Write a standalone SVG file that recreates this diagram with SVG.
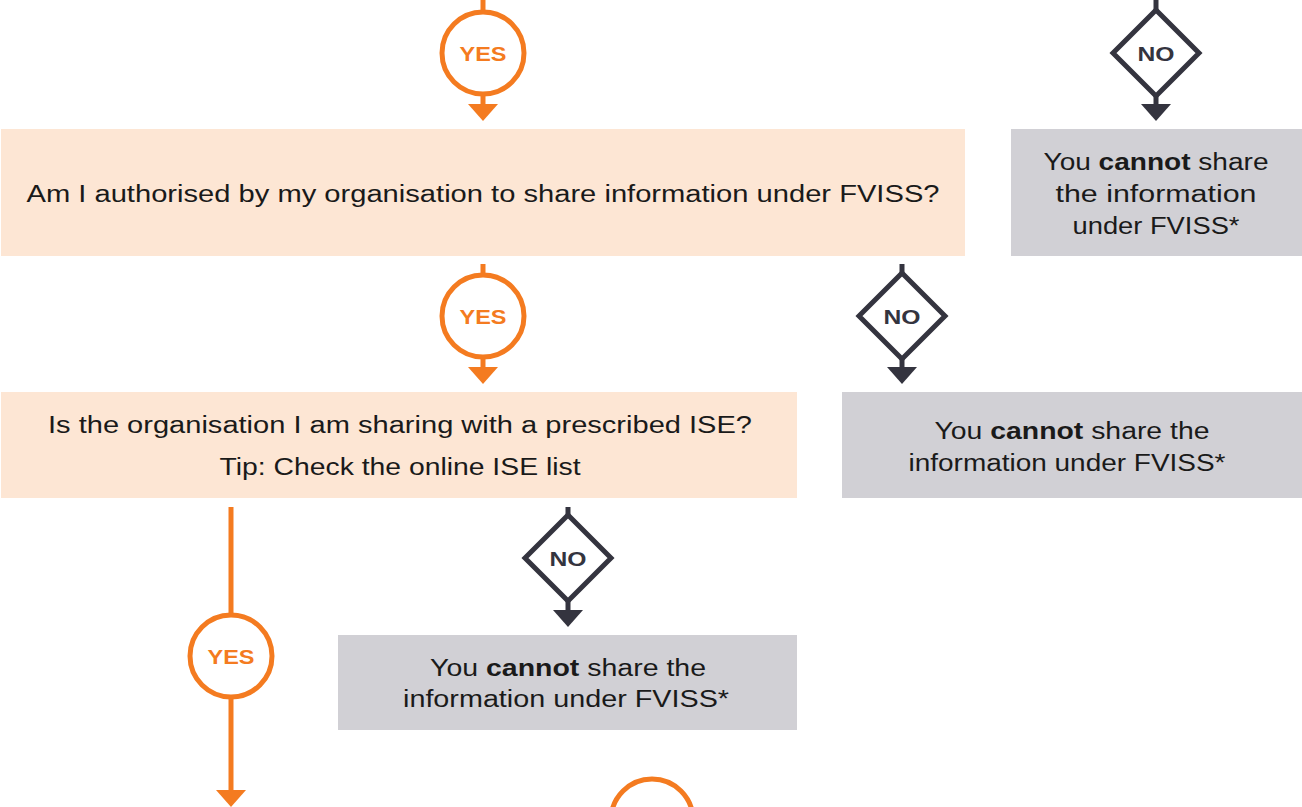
<svg xmlns="http://www.w3.org/2000/svg" width="1302" height="807" viewBox="0 0 1302 807">
<style>
.q{fill:#FDE6D4}
.g{fill:#D1D0D5}
.t{font-family:"Liberation Sans",Arial,sans-serif;font-size:23px;fill:#1a1a1a;text-anchor:middle}
.b{font-weight:bold}
.yc{fill:#fff;stroke:#F47B20;stroke-width:5}
.yt{font-family:"Liberation Sans",Arial,sans-serif;font-size:21px;font-weight:bold;fill:#F47B20;text-anchor:middle}
.nd{fill:#fff;stroke:#34343F;stroke-width:5;stroke-linejoin:miter}
.nt{font-family:"Liberation Sans",Arial,sans-serif;font-size:21px;font-weight:bold;fill:#34343F;text-anchor:middle}
.lo{stroke:#F47B20;stroke-width:5;fill:none}
.ld{stroke:#34343F;stroke-width:5;fill:none}
.ao{fill:#F47B20}
.ad{fill:#34343F}
</style>
<rect width="1302" height="807" fill="#fff"/>
<g id="connectors">
<line class="lo" x1="483" y1="0" x2="483" y2="12"/>
<line class="lo" x1="483" y1="94" x2="483" y2="106"/>
<polygon class="ao" points="468,104 498,104 483,121"/>
<line class="ld" x1="1156" y1="0" x2="1156" y2="12"/>
<line class="ld" x1="1156" y1="94" x2="1156" y2="106"/>
<polygon class="ad" points="1141,104 1171,104 1156,121"/>
<line class="lo" x1="483" y1="264" x2="483" y2="275"/>
<line class="lo" x1="483" y1="357" x2="483" y2="369"/>
<polygon class="ao" points="468,367 498,367 483,384"/>
<line class="ld" x1="902" y1="264" x2="902" y2="275"/>
<line class="ld" x1="902" y1="357" x2="902" y2="369"/>
<polygon class="ad" points="887,367 917,367 902,384"/>
<line class="ld" x1="568" y1="507" x2="568" y2="517"/>
<line class="ld" x1="568" y1="599" x2="568" y2="612"/>
<polygon class="ad" points="553,610 583,610 568,627"/>
<line class="lo" x1="231" y1="507" x2="231" y2="615"/>
<line class="lo" x1="231" y1="697" x2="231" y2="792"/>
<polygon class="ao" points="216,790 246,790 231,807"/>
</g>
<g id="yes1"><circle class="yc" cx="483" cy="53" r="41"/><text class="yt" x="483" y="60.5" textLength="47" lengthAdjust="spacingAndGlyphs">YES</text></g>
<g id="no1"><polygon class="nd" points="1156,10 1199,53 1156,96 1113,53"/><text class="nt" x="1156" y="60.5" textLength="37" lengthAdjust="spacingAndGlyphs">NO</text></g>
<g id="q1"><rect class="q" x="1" y="129" width="964" height="127"/><text class="t" x="483" y="202" textLength="913" lengthAdjust="spacingAndGlyphs">Am I authorised by my organisation to share information under FVISS?</text></g>
<g id="r1"><rect class="g" x="1011" y="129" width="291" height="127"/>
<text class="t" x="1156" y="170" textLength="225" lengthAdjust="spacingAndGlyphs">You <tspan class="b">cannot</tspan> share</text>
<text class="t" x="1156" y="202" textLength="201" lengthAdjust="spacingAndGlyphs">the information</text>
<text class="t" x="1156" y="234" textLength="167" lengthAdjust="spacingAndGlyphs">under FVISS*</text></g>
<g id="yes2"><circle class="yc" cx="483" cy="316" r="41"/><text class="yt" x="483" y="323.5" textLength="47" lengthAdjust="spacingAndGlyphs">YES</text></g>
<g id="no2"><polygon class="nd" points="902,273 945,316 902,359 859,316"/><text class="nt" x="902" y="323.5" textLength="37" lengthAdjust="spacingAndGlyphs">NO</text></g>
<g id="q2"><rect class="q" x="1" y="392" width="796" height="106"/>
<text class="t" x="400" y="433" textLength="704" lengthAdjust="spacingAndGlyphs">Is the organisation I am sharing with a prescribed ISE?</text>
<text class="t" x="400" y="475" textLength="361" lengthAdjust="spacingAndGlyphs">Tip: Check the online ISE list</text></g>
<g id="r2"><rect class="g" x="842" y="392" width="460" height="106"/>
<text class="t" x="1072" y="439" textLength="275" lengthAdjust="spacingAndGlyphs">You <tspan class="b">cannot</tspan> share the</text>
<text class="t" x="1067" y="471" textLength="317" lengthAdjust="spacingAndGlyphs">information under FVISS*</text></g>
<g id="no3"><polygon class="nd" points="568,515 611,558 568,601 525,558"/><text class="nt" x="568" y="565.5" textLength="37" lengthAdjust="spacingAndGlyphs">NO</text></g>
<g id="r3"><rect class="g" x="338" y="635" width="459" height="95"/>
<text class="t" x="568" y="676" textLength="276" lengthAdjust="spacingAndGlyphs">You <tspan class="b">cannot</tspan> share the</text>
<text class="t" x="566" y="707" textLength="326" lengthAdjust="spacingAndGlyphs">information under FVISS*</text></g>
<g id="yes3"><circle class="yc" cx="231" cy="656" r="41"/><text class="yt" x="231" y="663.5" textLength="47" lengthAdjust="spacingAndGlyphs">YES</text></g>
<g id="step"><circle class="yc" cx="652" cy="820" r="41"/></g>
</svg>
